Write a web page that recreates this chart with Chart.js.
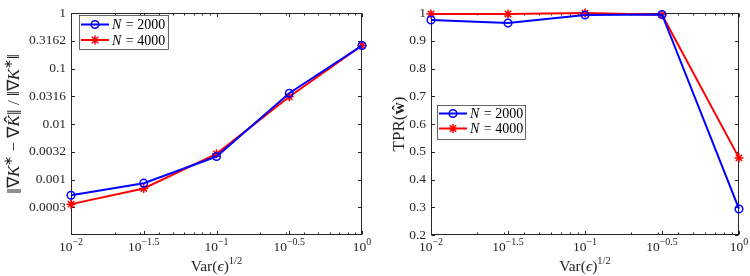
<!DOCTYPE html>
<html><head><meta charset="utf-8">
<script src="https://cdn.jsdelivr.net/npm/chart.js@4.4.0/dist/chart.umd.min.js"></script>
<style>html,body{margin:0;padding:0;background:#fff;width:750px;height:276px;overflow:hidden}
canvas{position:absolute;top:0}</style></head><body>
<canvas id="c1" width="375" height="276" style="left:0"></canvas>
<canvas id="c2" width="375" height="276" style="left:375px"></canvas>
<script>
// ---- data ----
const noiseLevels = [0.01, 0.0316228, 0.1, 0.316228, 1];
const xTickVals = [0.01, 0.0316228, 0.1, 0.316228, 1];
const xTickExps = ['\u22122', '\u22121.5', '\u22121', '\u22120.5', '0'];
const xMinorVals = [0.02,0.03,0.04,0.05,0.06,0.07,0.08,0.09,0.2,0.3,0.4,0.5,0.6,0.7,0.8,0.9];
const errN2000 = [0.00052, 0.00086, 0.0026, 0.036, 0.26];
const errN4000 = [0.00036, 0.00069, 0.0029, 0.031, 0.26];
const errTickVals = [1, 0.316228, 0.1, 0.0316228, 0.01, 0.00316228, 0.001, 0.000316228];
const errTickLabels = ['1', '0.3162', '0.1', '0.0316', '0.01', '0.0032', '0.001', '0.0003'];
const tprN2000 = [0.975, 0.964, 0.993, 0.995, 0.294];
const tprN4000 = [0.997, 0.997, 1.0, 0.994, 0.478];
const tprTickVals = [0.2, 0.3, 0.4, 0.5, 0.6, 0.7, 0.8, 0.9, 1];
const tprTickLabels = ['0.2', '0.3', '0.4', '0.5', '0.6', '0.7', '0.8', '0.9', '1'];
const seriesNames = ['2000', '4000'];

const FAM = "'Liberation Serif', serif";
const AX = '#262626';
const BLUE = '#0000ff', RED = '#ff0000';

function runsWidth(ctx, runs) {
  let w = 0;
  for (const r of runs) { ctx.font = r.f; w += ctx.measureText(r.t).width + (r.sp || 0); }
  return w;
}
function drawRuns(ctx, runs, x, y, align) {
  const w = runsWidth(ctx, runs);
  let cx = align === 'center' ? x - w / 2 : (align === 'right' ? x - w : x);
  ctx.textAlign = 'left'; ctx.textBaseline = 'alphabetic';
  for (const r of runs) {
    ctx.font = r.f;
    const tw = ctx.measureText(r.t).width;
    ctx.fillText(r.t, cx, y + (r.dy || 0));
    if (r.hat) {
      ctx.save();
      ctx.font = F(r.hatSize || 14);
      ctx.textAlign = 'center';
      ctx.fillText('\u02c6', cx + tw / 2 + 1.5, y - (r.hatDy || 0));
      ctx.restore();
    }
    cx += tw + (r.sp || 0);
  }
}
const F = (s, st) => (st ? st + ' ' : '') + s + 'px ' + FAM;

function makePlugin(cfg) {
  return {
    id: 'matlab',
    beforeDatasetsDraw(chart) {
      const ctx = chart.ctx, a = chart.chartArea;
      const xs = chart.scales.x, ys = chart.scales.y;
      ctx.save();
      ctx.strokeStyle = AX; ctx.lineWidth = 1;
      const L = Math.round(a.left) + 0.5, R = Math.round(a.right) - 0.5;
      const T = Math.round(a.top) + 0.5, B = Math.round(a.bottom) - 0.5;
      ctx.strokeRect(L, T, R - L, B - T);
      ctx.beginPath();
      const tick = (v, len) => {
        const px = Math.round(xs.getPixelForValue(v)) + 0.5;
        ctx.moveTo(px, B); ctx.lineTo(px, B - len);
        ctx.moveTo(px, T); ctx.lineTo(px, T + len);
      };
      xTickVals.forEach(v => tick(v, 3.5));
      xMinorVals.forEach(v => tick(v, 2));
      cfg.yTicks.forEach(v => {
        const py = Math.round(ys.getPixelForValue(v)) + 0.5;
        ctx.moveTo(L, py); ctx.lineTo(L + 3.5, py);
        ctx.moveTo(R, py); ctx.lineTo(R - 3.5, py);
      });
      ctx.stroke();
      ctx.restore();
    },
    afterDraw(chart) {
      const ctx = chart.ctx, a = chart.chartArea;
      const xs = chart.scales.x;
      ctx.save();
      ctx.fillStyle = AX;
      // x tick labels
      xTickVals.forEach((v, i) => {
        const px = xs.getPixelForValue(v);
        drawRuns(ctx, [{t: '10', f: F(13.5)}, {t: xTickExps[i], f: F(10), dy: -6}], px, 251, 'center');
      });
      // x title
      drawRuns(ctx, [{t: 'Var(', f: F(15.5)}, {t: '\u03f5', f: F(15.5, 'italic')}, {t: ')', f: F(15.5)}, {t: '1/2', f: F(10.5), dy: -7}],
        (a.left + a.right) / 2, 271, 'center');
      // y title
      ctx.save();
      ctx.translate(cfg.ytX, (a.top + a.bottom) / 2);
      ctx.rotate(-Math.PI / 2);
      drawRuns(ctx, cfg.yTitle, 0, 0, 'center');
      ctx.restore();
      // legend
      const lg = cfg.legend;
      ctx.fillStyle = '#fff';
      ctx.fillRect(lg.x, lg.y, lg.w, lg.h);
      ctx.strokeStyle = '#262626'; ctx.lineWidth = 0.7;
      ctx.strokeRect(lg.x + 0.5, lg.y + 0.5, lg.w - 1, lg.h - 1);
      chart.data.datasets.forEach((ds, i) => {
        const ry = lg.y + lg.rows[i];
        ctx.strokeStyle = ds.borderColor; ctx.lineWidth = 2;
        ctx.beginPath(); ctx.moveTo(lg.x + 2, ry); ctx.lineTo(lg.x + 30, ry); ctx.stroke();
        ctx.fillStyle = 'rgba(0,0,0,0)';
        ctx.lineWidth = ds.pointBorderWidth;
        Chart.helpers.drawPoint(ctx, {pointStyle: ds.pointStyle, radius: ds.pointRadius, rotation: 0, borderWidth: ds.pointBorderWidth}, lg.x + 16, ry);
        ctx.fillStyle = '#000';
        drawRuns(ctx, [{t: 'N', f: F(14, 'italic'), sp: 1}, {t: ' = ' + seriesNames[i], f: F(14)}], lg.x + 33, ry + 4.5, 'left');
      });
      ctx.restore();
    }
  };
}

function makeDatasets(d1, d2) {
  return [
    {label: 'N = 2000', data: noiseLevels.map((x, i) => ({x, y: d1[i]})), borderColor: BLUE, backgroundColor: BLUE,
      borderWidth: 2, pointStyle: 'circle', pointRadius: 3.8, pointBorderWidth: 1.5, pointBackgroundColor: 'rgba(0,0,0,0)',
      pointBorderColor: BLUE, clip: false, tension: 0},
    {label: 'N = 4000', data: noiseLevels.map((x, i) => ({x, y: d2[i]})), borderColor: RED, backgroundColor: RED,
      borderWidth: 2, pointStyle: 'star', pointRadius: 4.5, pointBorderWidth: 1.5, pointBackgroundColor: RED,
      pointBorderColor: RED, clip: false, tension: 0}
  ];
}

function makeChart(id, opts) {
  return new Chart(document.getElementById(id), {
    type: 'line',
    data: {datasets: makeDatasets(opts.d1, opts.d2)},
    plugins: [makePlugin(opts)],
    options: {
      responsive: false, animation: false, devicePixelRatio: 1,
      layout: {autoPadding: false, padding: {top: 8, right: opts.padR, left: 0, bottom: 0}},
      plugins: {legend: {display: false}, tooltip: {enabled: false}},
      scales: {
        x: {type: 'logarithmic', min: 0.01, max: 1, grid: {display: false}, border: {display: false},
          ticks: {display: false}, afterFit: s => { s.height = 41; }},
        y: Object.assign({grid: {display: false, drawTicks: false}, border: {display: false},
          ticks: {autoSkip: false, padding: 5, color: AX, font: {family: FAM, size: 13.5},
            callback: (v, i) => opts.yLabels[i]},
          afterBuildTicks: s => { s.ticks = opts.yTicks.map(v => ({value: v})); },
          afterFit: s => { s.width = opts.yW; }}, opts.yScale)
      }
    }
  });
}

makeChart('c1', {
  d1: errN2000, d2: errN4000, yTicks: errTickVals, yLabels: errTickLabels, yW: 71, padR: 13, ytX: 19,
  yScale: {type: 'logarithmic', min: 0.0001, max: 1},
  yTitle: [
    {t: '\u2016', f: F(21), dy: 2}, {t: '\u2207', f: F(17)}, {t: 'K', f: F(17, 'italic')}, {t: '\u2217', f: F(12), dy: -7},
    {t: ' \u2212 ', f: F(17)}, {t: '\u2207', f: F(17)}, {t: 'K', f: F(17, 'italic'), hat: true, hatSize: 20, hatDy: 0}, {t: '\u2016', f: F(21), dy: 2},
    {t: ' / ', f: F(17)}, {t: '\u2016', f: F(17)}, {t: '\u2207', f: F(17)}, {t: 'K', f: F(17, 'italic')}, {t: '\u2217', f: F(12), dy: -7},
    {t: '\u2016', f: F(17)}
  ],
  legend: {x: 79, y: 15, w: 90, h: 35, rows: [9.5, 25]}
});
makeChart('c2', {
  d1: tprN2000, d2: tprN4000, yTicks: tprTickVals, yLabels: tprTickLabels, yW: 56, padR: 11, ytX: 29,
  yScale: {type: 'linear', min: 0.2, max: 1},
  yTitle: [{t: 'TPR(', f: F(17)}, {t: '\u0175', f: F(17, 'bold')}, {t: ')', f: F(17)}],
  legend: {x: 62, y: 105, w: 89, h: 35, rows: [8.5, 23.5]}
});
</script></body></html>
